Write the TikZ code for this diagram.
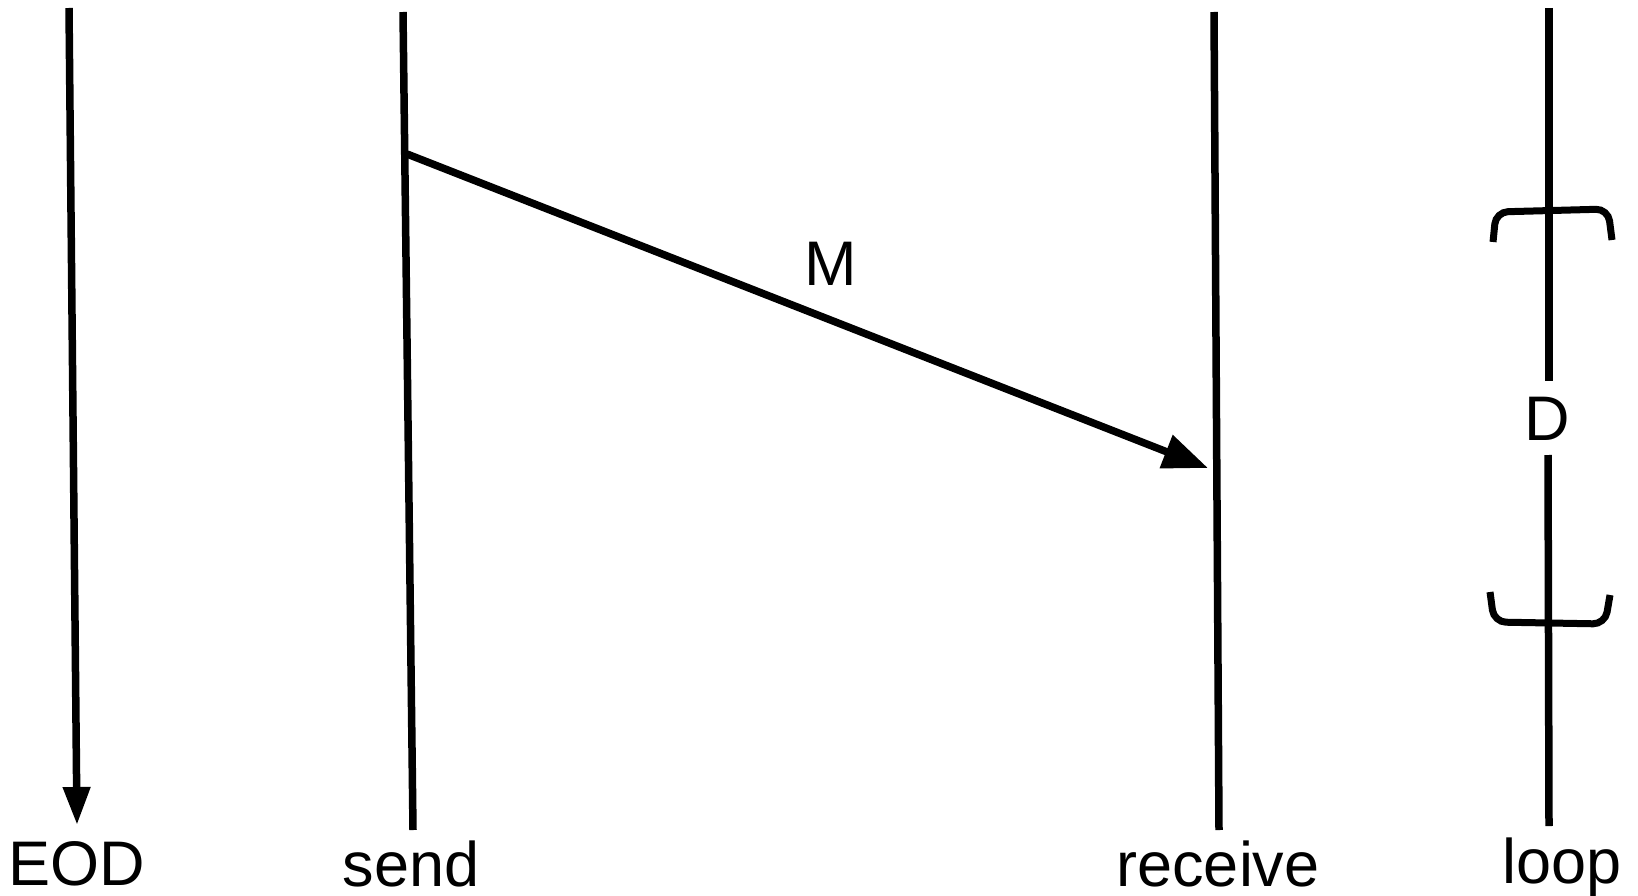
\documentclass[tikz,border=0pt]{standalone}
\usepackage{fontspec}
\setmainfont{Liberation Sans}
\usetikzlibrary{arrows.meta}
\begin{document}
\begin{tikzpicture}[x=1pt,y=-1pt,
  lifeline/.style={line width=7.5pt},
  lbl/.style={inner sep=0pt,anchor=base,font=\fontsize{63pt}{70pt}\selectfont},
  brk/.style={line width=7pt,rounded corners=12pt},
  tipA/.style={-{Triangle[length=38pt,width=26pt]}},
  tipB/.style={-{Triangle[length=45pt,width=34pt]}}]
\useasboundingbox (0,0) rectangle (1638,896);
% coordinates
\coordinate (eodT) at (69,8);
\coordinate (eodB) at (77,825);
\coordinate (sendT) at (403,12);
\coordinate (sendB) at (413,830);
\coordinate (recT) at (1214,12);
\coordinate (recB) at (1219,830);
\coordinate (loopT) at (1549,8);
\coordinate (loopB) at (1549,826);
\coordinate (msgS) at (407,154);
\coordinate (msgE) at (1208,468);
% labels
\node[lbl] (eod) at (77,885) {EOD};
\node[lbl] (send) at (411,886) {send};
\node[lbl] (receive) at (1218,886) {receive};
\node[lbl] (loop) at (1562,883) {loop};
\node[lbl] (m) at (831,285) {M};
\node[lbl] (d) at (1547,440) {D};
% lifelines
\draw[lifeline,tipA] (eodT) -- (eodB);
\draw[lifeline] (sendT) -- (sendB);
\draw[lifeline] (recT) -- (recB);
\draw[lifeline] (loopT) -- (1549,381);
\draw[lifeline] (1548,455) -- (loopB);
% message
\draw[lifeline,tipB] (msgS) -- (msgE);
% brackets
\draw[brk] (1493,242) -- (1496,212) -- (1608,209) -- (1612,240);
\draw[brk] (1490,592) -- (1494,622) -- (1605,624) -- (1610,595);
\end{tikzpicture}
\end{document}
